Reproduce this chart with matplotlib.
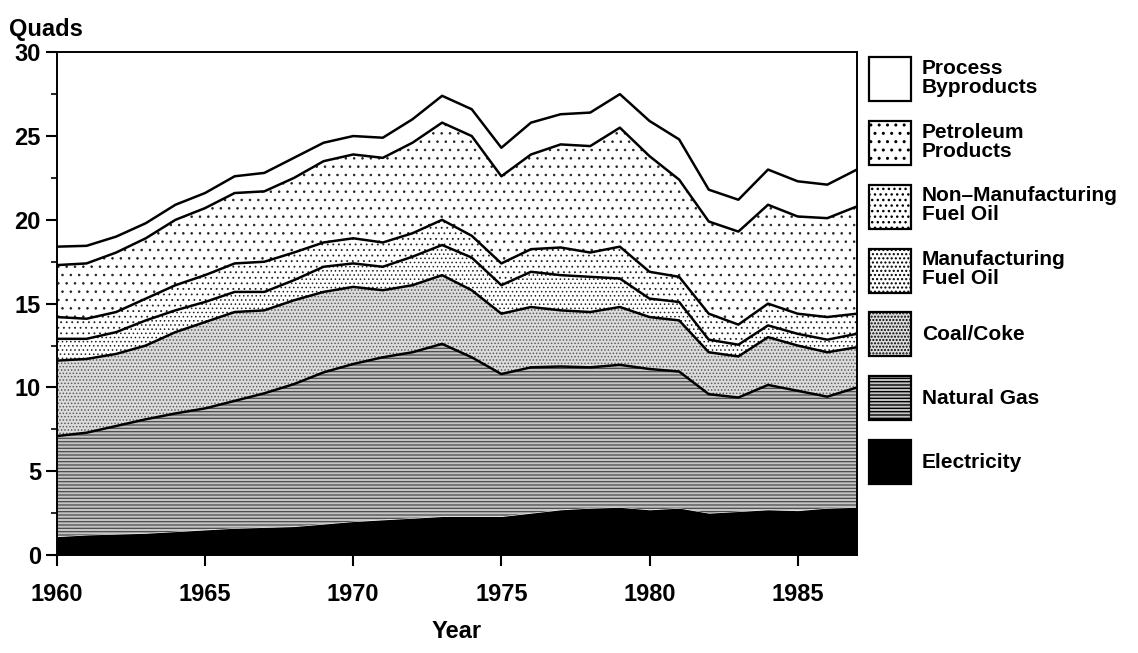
import numpy as np
import matplotlib
matplotlib.use("Agg")
import matplotlib.pyplot as plt

plt.rcParams['font.family'] = ['Liberation Sans', 'DejaVu Sans']

# industrial energy use by source, quads
years = list(range(1960, 1988))
electricity = [1.1, 1.2, 1.25, 1.3, 1.4, 1.5, 1.6, 1.65, 1.7, 1.85, 2.0, 2.1, 2.2, 2.3,
               2.3, 2.3, 2.5, 2.7, 2.8, 2.85, 2.7, 2.8, 2.5, 2.6, 2.7, 2.65, 2.8, 2.85]
natural_gas = [6.0, 6.1, 6.45, 6.8, 7.05, 7.25, 7.6, 8.0, 8.5, 9.05, 9.4, 9.7, 9.9, 10.3,
               9.5, 8.5, 8.7, 8.55, 8.4, 8.5, 8.4, 8.15, 7.1, 6.8, 7.45, 7.15, 6.65, 7.15]
coal_coke = [4.5, 4.4, 4.3, 4.4, 4.85, 5.15, 5.3, 4.95, 5.0, 4.8, 4.6, 4.0, 4.0, 4.1,
             4.0, 3.6, 3.6, 3.35, 3.3, 3.45, 3.1, 3.05, 2.5, 2.45, 2.85, 2.7, 2.65, 2.4]
manuf_fuel_oil = [1.3, 1.2, 1.3, 1.5, 1.3, 1.2, 1.2, 1.1, 1.2, 1.5, 1.4, 1.4, 1.7, 1.8,
                  1.95, 1.7, 2.1, 2.1, 2.1, 1.7, 1.1, 1.1, 0.75, 0.7, 0.7, 0.7, 0.75, 0.8]
nonmanuf_fuel_oil = [1.3, 1.2, 1.2, 1.3, 1.5, 1.6, 1.7, 1.8, 1.65, 1.45, 1.5, 1.45, 1.4, 1.5,
                     1.3, 1.3, 1.35, 1.65, 1.45, 1.9, 1.6, 1.5, 1.55, 1.2, 1.3, 1.2, 1.35, 1.2]
petroleum = [3.1, 3.3, 3.55, 3.6, 3.9, 4.0, 4.2, 4.2, 4.45, 4.85, 5.0, 5.05, 5.4, 5.8,
             5.95, 5.2, 5.65, 6.15, 6.35, 7.1, 6.9, 5.8, 5.5, 5.55, 5.9, 5.8, 5.9, 6.4]
byproducts = [1.1, 1.05, 0.95, 0.9, 0.9, 0.9, 1.0, 1.1, 1.2, 1.1, 1.1, 1.2, 1.4, 1.6,
              1.6, 1.7, 1.9, 1.8, 2.0, 2.0, 2.1, 2.4, 1.9, 1.9, 2.1, 2.1, 2.0, 2.2]

labels = ["Electricity", "Natural Gas", "Coal/Coke", "Manufacturing\nFuel Oil",
          "Non\u2013Manufacturing\nFuel Oil", "Petroleum\nProducts", "Process\nByproducts"]
series = [electricity, natural_gas, coal_coke, manuf_fuel_oil,
          nonmanuf_fuel_oil, petroleum, byproducts]

# black & white print look: face colour, hatch, hatch colour, hatch width
faces = ['black', '#c4c4c4', '#dcdcdc', 'white', 'white', 'white', 'white']
hatches = [None, '-----', '.....', '....', '...', '..', None]
hcolors = ['black', '#4a4a4a', '#5a5a5a', '#222222', '#222222', '#222222', 'black']
hwidths = [1.0, 0.9, 0.7, 0.6, 0.6, 0.6, 1.0]

fig = plt.figure(figsize=(11.38, 6.53), dpi=100)
ax = fig.add_axes([0.050, 0.150, 0.703, 0.770])

x = np.array(years)
tops = np.cumsum(np.array(series), axis=0)
bottom = np.zeros(len(years))
leg_h = []
for i in range(len(series)):
    with plt.rc_context({'hatch.linewidth': hwidths[i]}):
        ax.fill_between(x, bottom, tops[i], facecolor=faces[i], hatch=hatches[i],
                        edgecolor=hcolors[i], linewidth=0)
        # legend swatch with the same fill
        p = plt.Rectangle((0, 0), 1, 1, facecolor=faces[i], hatch=hatches[i],
                          edgecolor=hcolors[i], linewidth=0)
        leg_h.append(p)
    if i > 0:
        ax.plot(x, tops[i], color='black', lw=1.8)
    bottom = tops[i]

ax.set_xlim(1960, 1987)
ax.set_ylim(0, 30)
ax.set_xticks([1960, 1965, 1970, 1975, 1980, 1985])
ax.set_yticks(range(0, 31, 5))
ax.set_yticks(np.arange(2.5, 30, 5), minor=True)
ax.tick_params(axis='both', which='major', length=8, width=1.5, labelsize=17, direction='out')
ax.tick_params(axis='y', which='minor', length=4, width=1.2)
ax.tick_params(axis='x', pad=12)
for lab in ax.get_xticklabels() + ax.get_yticklabels():
    lab.set_fontweight('bold')
for s in ax.spines.values():
    s.set_linewidth(1.4)

ax.set_xlabel("Year", fontsize=17, fontweight='bold', labelpad=10)
fig.text(0.008, 0.955, "Quads", fontsize=17, fontweight='bold', ha='left', va='center')

leg = fig.legend(leg_h[::-1], labels[::-1], loc='upper left', bbox_to_anchor=(0.756, 0.925),
                 frameon=False, fontsize=15, handlelength=2.05, handleheight=2.87,
                 labelspacing=0.95, handletextpad=0.5, borderaxespad=0)
for t in leg.get_texts():
    t.set_fontweight('bold')
    t.set_linespacing(1.0)
# outline the swatches like the printed boxes
for p in leg.get_patches():
    p.set_edgecolor('black')
    p.set_linewidth(1.6)

fig.savefig("out.png", dpi=100)
